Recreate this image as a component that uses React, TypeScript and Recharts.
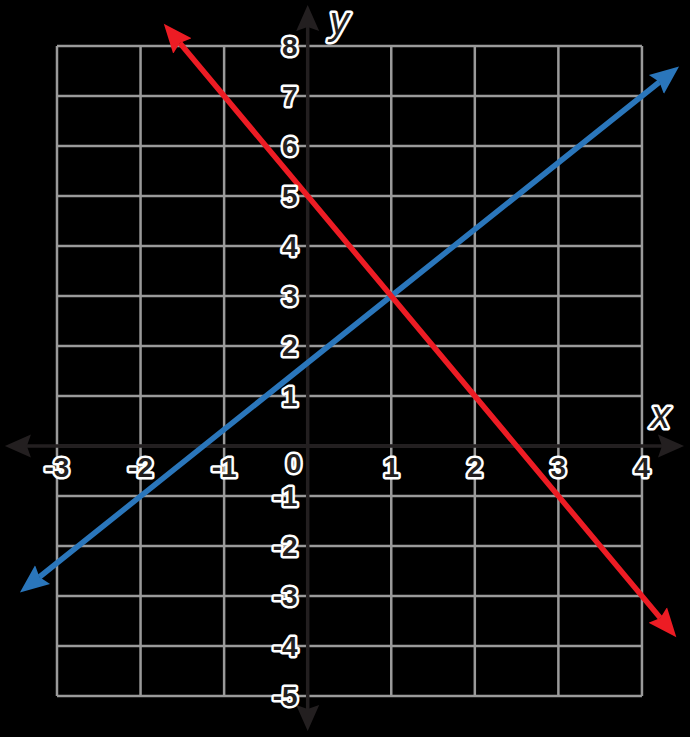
import React from "react";
import {
  ComposedChart,
  Line,
  XAxis,
  YAxis,
  ReferenceLine,
  ReferenceDot,
} from "recharts";

// ---------------------------------------------------------------------------
// Two lines on a coordinate grid: y = 4/3x + 5/3 (blue) and y = -2x + 5 (red)
// ---------------------------------------------------------------------------

const WIDTH = 690;
const HEIGHT = 737;

const X_DOMAIN: [number, number] = [-3.682, 4.575];
const Y_DOMAIN: [number, number] = [-5.82, 8.92];

// grid box
const gridXs = [-3, -2, -1, 0, 1, 2, 3, 4];
const gridYs = [-5, -4, -3, -2, -1, 0, 1, 2, 3, 4, 5, 6, 7, 8];

// tick labels
const xTickLabels = ["-3", "-2", "-1", "1", "2", "3", "4"];
const xTickValues = [-3, -2, -1, 1, 2, 3, 4];
const yTickLabels = ["8", "7", "6", "5", "4", "3", "2", "1", "-1", "-2", "-3", "-4", "-5"];
const yTickValues = [8, 7, 6, 5, 4, 3, 2, 1, -1, -2, -3, -4, -5];

// axis extents (arrow bases)
const xAxisExtent = [-3.36, 4.24];
const yAxisExtent = [-5.26, 8.38];

// series (ending at the arrow bases)
const blueLine = [
  { x: -3.21, y: -2.62 },
  { x: 1, y: 3 },
  { x: 4.21, y: 7.28 },
];
const redLine = [
  { x: -1.53, y: 8.06 },
  { x: 1, y: 3 },
  { x: 4.22, y: -3.44 },
];

const BLUE = "#2a76bb";
const RED = "#ed1c24";
const AXIS = "#231f20";
const GRID = "#9a9a9a";

const textStyle = {
  fontFamily: "'Liberation Sans', Arial, sans-serif",
  fontSize: 28,
  fontWeight: "bold",
  fill: AXIS,
  stroke: "#ffffff",
  strokeWidth: 5,
  strokeLinejoin: "round" as const,
  paintOrder: "stroke",
};

function Arrow({ id, color, len, half }: { id: string; color: string; len: number; half: number }) {
  return (
    <marker
      id={id}
      markerUnits="userSpaceOnUse"
      markerWidth={len + 2}
      markerHeight={half * 2 + 2}
      viewBox={`0 0 ${len + 2} ${half * 2 + 2}`}
      refX={4}
      refY={half + 1}
      orient="auto-start-reverse"
    >
      <path
        d={`M0,1 L${len},${half + 1} L0,${half * 2 + 1} L4,${half + 1} Z`}
        fill={color}
      />
    </marker>
  );
}

function textAt(
  text: string,
  dx: number,
  dy: number,
  anchor: "start" | "middle" | "end",
  extra: Record<string, unknown> = {}
) {
  return (p: any) => (
    <text
      x={p.cx + dx}
      y={p.cy + dy}
      textAnchor={anchor}
      style={{ ...textStyle, ...extra } as any}
    >
      {text}
    </text>
  );
}

function axisLine(p: any) {
  return (
    <line
      x1={p.x1}
      y1={p.y1}
      x2={p.x2}
      y2={p.y2}
      stroke={AXIS}
      strokeWidth={3.5}
      markerStart="url(#arrow-axis)"
      markerEnd="url(#arrow-axis)"
    />
  );
}

export default function App() {
  return (
    <div
      style={{
        position: "absolute",
        left: 0,
        top: 0,
        width: WIDTH,
        height: HEIGHT,
        background: "#000",
      }}
    >
      <svg width={0} height={0} style={{ position: "absolute" }}>
        <defs>
          <Arrow id="arrow-axis" color={AXIS} len={26} half={11.5} />
          <Arrow id="arrow-blue" color={BLUE} len={29} half={12} />
          <Arrow id="arrow-red" color={RED} len={29} half={12} />
        </defs>
      </svg>
      <ComposedChart
        width={WIDTH}
        height={HEIGHT}
        margin={{ top: 0, right: 0, bottom: 0, left: 0 }}
      >
        <XAxis
          hide
          type="number"
          dataKey="x"
          domain={X_DOMAIN}
          allowDataOverflow
        />
        <YAxis hide type="number" domain={Y_DOMAIN} allowDataOverflow />

        {/* grid */}
        {gridXs.map((x) => (
          <ReferenceLine
            key={`gx${x}`}
            segment={[
              { x, y: gridYs[0] },
              { x, y: gridYs[gridYs.length - 1] },
            ]}
            stroke={GRID}
            strokeWidth={2.5}
            ifOverflow="visible"
            zIndex={100}
          />
        ))}
        {gridYs.map((y) => (
          <ReferenceLine
            key={`gy${y}`}
            segment={[
              { x: gridXs[0], y },
              { x: gridXs[gridXs.length - 1], y },
            ]}
            stroke={GRID}
            strokeWidth={2.5}
            ifOverflow="visible"
            zIndex={100}
          />
        ))}

        {/* axes */}
        <ReferenceLine
          segment={[
            { x: xAxisExtent[0], y: 0 },
            { x: xAxisExtent[1], y: 0 },
          ]}
          shape={axisLine}
          ifOverflow="visible"
          zIndex={200}
        />
        <ReferenceLine
          segment={[
            { x: 0, y: yAxisExtent[0] },
            { x: 0, y: yAxisExtent[1] },
          ]}
          shape={axisLine}
          ifOverflow="visible"
          zIndex={200}
        />

        {/* series */}
        <Line
          data={blueLine}
          dataKey="y"
          type="linear"
          stroke={BLUE}
          strokeWidth={5.5}
          dot={false}
          activeDot={false}
          isAnimationActive={false}
          markerStart="url(#arrow-blue)"
          markerEnd="url(#arrow-blue)"
          zIndex={300}
        />
        <Line
          data={redLine}
          dataKey="y"
          type="linear"
          stroke={RED}
          strokeWidth={5.5}
          dot={false}
          activeDot={false}
          isAnimationActive={false}
          markerStart="url(#arrow-red)"
          markerEnd="url(#arrow-red)"
          zIndex={310}
        />

        {/* tick labels */}
        {xTickValues.map((x, i) => (
          <ReferenceDot
            key={`xt${x}`}
            x={x}
            y={0}
            r={0}
            ifOverflow="visible"
            shape={textAt(xTickLabels[i], 0, 31, "middle")}
            zIndex={2000}
          />
        ))}
        <ReferenceDot
          x={0}
          y={0}
          r={0}
          ifOverflow="visible"
          shape={textAt("0", -14, 27, "middle")}
          zIndex={2000}
        />
        {yTickValues.map((y, i) => (
          <ReferenceDot
            key={`yt${y}`}
            x={0}
            y={y}
            r={0}
            ifOverflow="visible"
            shape={textAt(yTickLabels[i], -10, 10, "end")}
            zIndex={2000}
          />
        ))}

        {/* axis names */}
        <ReferenceDot
          x={0}
          y={8}
          r={0}
          ifOverflow="visible"
          shape={textAt("y", 22, -12, "start", {
            fontSize: 38,
            fontStyle: "italic",
            fontWeight: "normal",
          })}
          zIndex={2000}
        />
        <ReferenceDot
          x={4}
          y={0}
          r={0}
          ifOverflow="visible"
          shape={textAt("x", 9, -18, "start", {
            fontSize: 38,
            fontStyle: "italic",
            fontWeight: "normal",
          })}
          zIndex={2000}
        />
      </ComposedChart>
    </div>
  );
}
